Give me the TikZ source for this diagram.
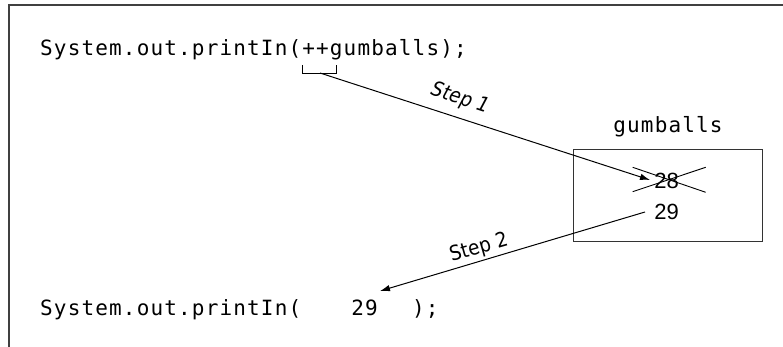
\documentclass[tikz,border=0pt]{standalone}
\usepackage{fontspec}
\usetikzlibrary{arrows.meta}
\newfontfamily\codefont[LetterSpace=5.5]{DejaVu Sans Mono}
\newfontfamily\numfont{Liberation Sans}
\newfontfamily\stepfont{DejaVu Sans Condensed}
\begin{document}
\begin{tikzpicture}[x=1pt,y=-1pt,
  code/.style={font=\codefont\fontsize{21}{25}\selectfont, inner sep=0pt},
  num/.style={font=\numfont\fontsize{22}{26}\selectfont, inner sep=0pt},
  stepone/.style={font=\stepfont\itshape\fontsize{20.5}{24}\selectfont, inner sep=0pt},
  steptwo/.style={font=\stepfont\fontsize{20.5}{24}\selectfont, inner sep=0pt},
  conn/.style={line width=1pt, -{Latex[length=10pt,width=6.5pt]}},
  thinline/.style={line width=0.9pt}]
\useasboundingbox (0,0) rectangle (783,347);
% frame (top and left only)
\draw[line width=2pt, black!75] (8.5,347) -- (8.5,4.7) -- (783,4.7);
% first code line
\node[code, anchor=base west] (line1) at (40,56) {System.out.printIn(++gumballs);};
\draw[thinline] (302,65) -- (302,73) -- (336,73) -- (336,65);
\coordinate (b1) at (320,73);
% variable box
\node[code, anchor=base] (varname) at (668,133) {gumballs};
\node[draw, line width=1.2pt, draw=black!80, minimum width=189pt, minimum height=92pt, inner sep=0pt] (box) at (667.7,195.5) {};
\node[num] (old) at (666.5,181) {28};
\node[num] (new) at (666.5,212) {29};
\draw[thinline] (632.7,167.3) -- (705.7,192.3);
\draw[thinline] (632.7,191.7) -- (705.7,167.3);
% arrows
\coordinate (t1) at (650,180);
\draw[conn] (b1) -- (t1);
\coordinate (s2) at (645,212);
\coordinate (t2) at (380,291);
\draw[conn] (s2) -- (t2);
\node[stepone, rotate=-18] (step1) at (460,99) {Step 1};
\node[steptwo, rotate=16] (step2) at (479,248) {Step 2};
% second code line
\node[code, anchor=base west] (line2a) at (40,315) {System.out.printIn(};
\node[code, anchor=base] (line2b) at (364.5,315) {29};
\node[code, anchor=base west] (line2c) at (412,315) {);};
\end{tikzpicture}
\end{document}
